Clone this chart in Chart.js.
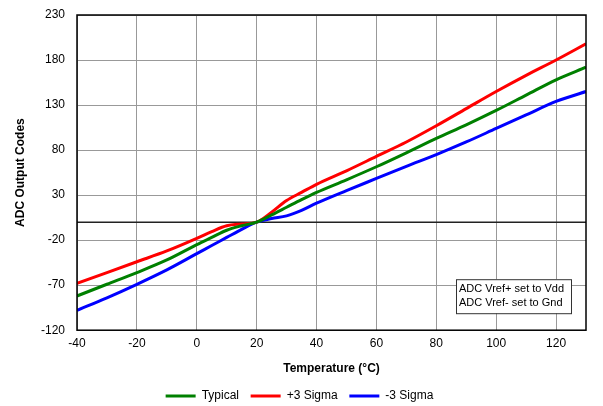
<!DOCTYPE html>
<html>
<head>
<meta charset="utf-8">
<script src="https://cdn.jsdelivr.net/npm/chart.js@4/dist/chart.umd.min.js"></script>
<style>
html,body{margin:0;padding:0;background:#fff;}
#wrap{width:603px;height:406px;}
</style>
</head>
<body>
<div id="wrap"><canvas id="c" width="603" height="406"></canvas></div>
<script>
const temps   = [-40,-30,-20,-10,0,5,10,15,20,25,30,35,40,50,60,70,80,90,100,110,120,130];
const typical = [-82,-69,-56,-42,-25,-17,-9,-4,0,8,16.5,25,33,47,61.5,77,93,108,124,141,158,172];
const plus3   = [-68,-56,-44,-32,-18,-10.5,-4,-2,0,11,24,33,42,57,73,89,107,126,145,163,180,198];
const minus3  = [-98,-84,-69,-53,-35,-26,-17,-8,0,4,7,13,21,35,48.5,62,75,89,104,119,134,145];
const xTicks  = [-40,-20,0,20,40,60,80,100,120];
const yTicks  = [-120,-70,-20,30,80,130,180,230];
const noteLines = ['ADC Vref+ set to Vdd','ADC Vref- set to Gnd'];

const FONT = "'Liberation Sans', Arial, sans-serif";
function pts(ys){ return temps.map((t,i)=>({x:t,y:ys[i]})); }

const framePlugin = {
  id:'frame',
  beforeDatasetsDraw(chart){
    const {ctx, chartArea:a, scales} = chart;
    const y0 = scales.y.getPixelForValue(0);
    ctx.save();
    ctx.strokeStyle = '#222';
    ctx.lineWidth = 1.5;
    ctx.beginPath(); ctx.moveTo(a.left, y0); ctx.lineTo(a.right, y0); ctx.stroke();
    ctx.restore();
  },
  afterDatasetsDraw(chart){
    const {ctx, chartArea:a} = chart;
    ctx.save();
    ctx.strokeStyle = '#000';
    ctx.lineWidth = 1.5;
    ctx.strokeRect(a.left, a.top, a.right-a.left, a.bottom-a.top);
    // note box
    const bx = a.right - 130, by = a.bottom - 51, bw = 115, bh = 34;
    ctx.fillStyle = '#fff';
    ctx.fillRect(bx, by, bw, bh);
    ctx.lineWidth = 1;
    ctx.strokeStyle = '#333';
    ctx.strokeRect(bx+0.5, by+0.5, bw, bh);
    ctx.fillStyle = '#000';
    ctx.font = "11px " + FONT;
    ctx.textBaseline = 'middle';
    ctx.fillText(noteLines[0], bx+3, by+10);
    ctx.fillText(noteLines[1], bx+3, by+24);
    ctx.restore();
  }
};

const common = {borderWidth:3, pointRadius:0, pointHoverRadius:0, cubicInterpolationMode:'monotone', fill:false};

new Chart(document.getElementById('c'), {
  type:'line',
  data:{
    datasets:[
      Object.assign({label:'Typical', data:pts(typical), borderColor:'#008000', backgroundColor:'#008000'}, common),
      Object.assign({label:'+3 Sigma', data:pts(plus3), borderColor:'#ff0000', backgroundColor:'#ff0000'}, common),
      Object.assign({label:'-3 Sigma', data:pts(minus3), borderColor:'#0000ff', backgroundColor:'#0000ff'}, common)
    ]
  },
  options:{
    responsive:false,
    animation:false,
    devicePixelRatio:1,
    layout:{padding:{left:13,right:17,top:15,bottom:-6}},
    plugins:{
      legend:{
        position:'bottom',
        labels:{
          usePointStyle:true, pointStyle:'line', pointStyleWidth:30,
          color:'#000', font:{family:FONT,size:12}, padding:5,
          generateLabels(chart){
            const items = Chart.defaults.plugins.legend.labels.generateLabels(chart);
            items.forEach((it,i)=>{ it.lineWidth = 3; if(i<items.length-1) it.text = it.text + '  '; });
            return items;
          }
        }
      },
      tooltip:{enabled:false}
    },
    scales:{
      x:{
        type:'linear', min:-40, max:130,
        afterBuildTicks(s){ s.ticks = xTicks.map(v=>({value:v})); },
        ticks:{color:'#000', font:{family:FONT,size:12}, padding:6, maxRotation:0},
        grid:{color:'#999', lineWidth:1, drawTicks:false},
        border:{display:false},
        title:{display:true, text:'Temperature (°C)', color:'#000', font:{family:FONT,size:12,weight:'bold'}, padding:{top:5,bottom:9}}
      },
      y:{
        type:'linear', min:-120, max:230,
        afterBuildTicks(s){ s.ticks = yTicks.map(v=>({value:v})); },
        afterFit(s){ s.width = 64; s.paddingTop = 0; s.paddingBottom = 0; },
        ticks:{color:'#000', font:{family:FONT,size:12}, padding:12},
        grid:{color:'#999', lineWidth:1, drawTicks:false},
        border:{display:false},
        title:{display:true, text:'ADC Output Codes', color:'#000', font:{family:FONT,size:12,weight:'bold'}, padding:{top:0,bottom:6}}
      }
    }
  },
  plugins:[framePlugin]
});
</script>
</body>
</html>
